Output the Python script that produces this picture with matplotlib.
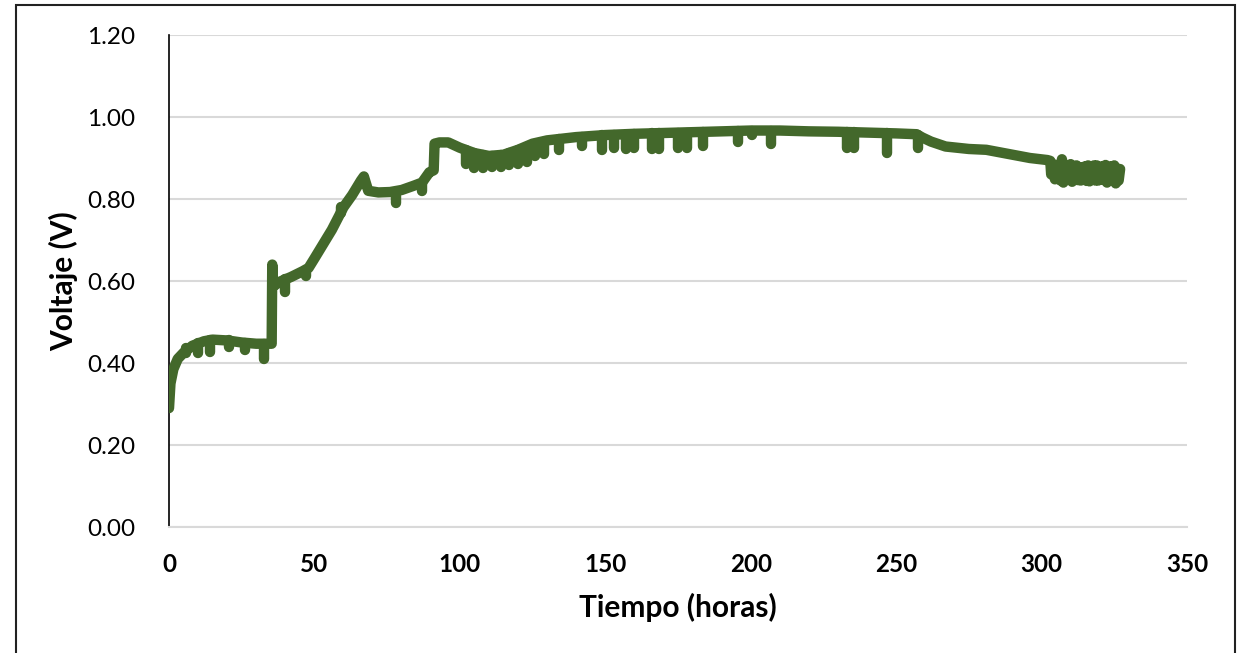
import matplotlib
matplotlib.use("Agg")
import matplotlib.pyplot as plt
from matplotlib.patches import Rectangle

plt.rcParams['font.family'] = ['Lato', 'DejaVu Sans']

# ---- data ----
base_t = [0, 0.5, 1.5, 3, 5, 8, 12, 15, 20, 25, 30, 35.3, 35.5, 35.7, 36.5, 38, 42, 46, 48,
          50, 53, 56, 60, 63, 66, 67, 68.5, 72, 76, 80, 84, 87, 89.5, 91, 91.3, 93, 96, 100,
          105, 110, 115, 120, 125, 130, 140, 150, 160, 170, 180, 190, 200, 210, 220, 230,
          240, 250, 257, 259, 262, 267, 275, 281, 290, 296, 302]
base_v = [0.29, 0.35, 0.385, 0.41, 0.425, 0.442, 0.453, 0.457, 0.455, 0.45, 0.447, 0.447,
          0.64, 0.595, 0.59, 0.598, 0.61, 0.624, 0.632, 0.655, 0.69, 0.725, 0.78, 0.81,
          0.845, 0.855, 0.82, 0.816, 0.817, 0.822, 0.832, 0.84, 0.865, 0.87, 0.935, 0.938,
          0.938, 0.925, 0.912, 0.905, 0.908, 0.92, 0.935, 0.943, 0.951, 0.956, 0.959, 0.961,
          0.963, 0.965, 0.967, 0.967, 0.965, 0.964, 0.962, 0.96, 0.958, 0.95, 0.94, 0.928,
          0.922, 0.92, 0.908, 0.9, 0.895]

noisy_t = [303, 303.3, 304, 304.6, 305, 305.5, 306, 306.5, 307, 307.5, 308, 308.5, 309,
           309.5, 310, 310.5, 311, 311.5, 312, 312.5, 313, 313.5, 314, 314.5, 315, 315.5,
           316, 316.5, 317, 317.5, 318, 318.5, 319, 319.5, 320, 320.5, 321, 321.5, 322,
           322.5, 323, 323.5, 324, 324.5, 325, 325.5, 326, 326.5, 327]
noisy_v = [0.893, 0.86, 0.885, 0.848, 0.878, 0.852, 0.884, 0.845, 0.897, 0.84, 0.88, 0.848,
           0.875, 0.85, 0.885, 0.842, 0.878, 0.848, 0.882, 0.846, 0.878, 0.845, 0.876, 0.85,
           0.88, 0.844, 0.882, 0.843, 0.875, 0.848, 0.882, 0.845, 0.882, 0.845, 0.878, 0.85,
           0.88, 0.846, 0.883, 0.84, 0.875, 0.85, 0.88, 0.845, 0.882, 0.838, 0.875, 0.845,
           0.873]

dip_t = [6, 10, 14, 20.5, 26, 32.5, 40, 47, 59, 78, 87,
         102, 105, 108, 111, 114, 117, 120, 123, 126, 129, 134, 142, 149, 153, 157, 160,
         166, 168.5, 175, 178, 183.5, 195.5, 200.5, 207, 233, 235.5, 247, 257.5]
dip_top = [0.437, 0.45, 0.456, 0.455, 0.45, 0.447, 0.604, 0.628, 0.78, 0.817, 0.84,
           0.92, 0.912, 0.908, 0.905, 0.907, 0.912, 0.92, 0.926, 0.935, 0.94, 0.947, 0.952,
           0.955, 0.956, 0.957, 0.958, 0.96, 0.96, 0.961, 0.962, 0.963, 0.965, 0.966, 0.967,
           0.964, 0.963, 0.96, 0.957]
dip_bottom = [0.425, 0.425, 0.428, 0.44, 0.432, 0.41, 0.572, 0.612, 0.765, 0.79, 0.82,
              0.885, 0.875, 0.875, 0.878, 0.878, 0.882, 0.885, 0.89, 0.905, 0.91, 0.92, 0.93,
              0.92, 0.925, 0.922, 0.925, 0.922, 0.922, 0.925, 0.925, 0.93, 0.94, 0.955, 0.935,
              0.925, 0.925, 0.913, 0.925]

x_ticks = [0, 50, 100, 150, 200, 250, 300, 350]
y_ticks = [0.0, 0.2, 0.4, 0.6, 0.8, 1.0, 1.2]

line_color = '#43682B'
grid_color = '#D9D9D9'

fig = plt.figure(figsize=(12.4, 6.53), dpi=100)
ax = fig.add_axes([169 / 1240, 1 - 527 / 653, (1187 - 169) / 1240, (527 - 35) / 653])

lw = 7.5
ax.plot(base_t + noisy_t, base_v + noisy_v, color=line_color, lw=lw,
        solid_capstyle='round', solid_joinstyle='round', zorder=3)
vl = ax.vlines(dip_t, dip_bottom, dip_top, color=line_color, lw=lw, zorder=3)
vl.set_capstyle('round')

ax.set_xlim(0, 350)
ax.set_ylim(0, 1.2)
ax.set_xticks(x_ticks)
ax.set_yticks(y_ticks)
ax.set_xticklabels([str(v) for v in x_ticks], fontweight='bold')
ax.set_yticklabels([f'{v:.2f}' for v in y_ticks])
ax.tick_params(axis='both', length=0, labelsize=17.5, colors='black')
ax.tick_params(axis='y', pad=24)
ax.tick_params(axis='x', pad=19)

ax.grid(axis='y', color=grid_color, lw=1.5, zorder=0)
ax.set_axisbelow(True)
for s in ['top', 'right']:
    ax.spines[s].set_visible(False)
ax.spines['left'].set_color('black')
ax.spines['left'].set_linewidth(1.2)
ax.spines['bottom'].set_color(grid_color)
ax.spines['bottom'].set_linewidth(1.5)

ax.set_xlabel('Tiempo (horas)', fontsize=21.5, fontweight='bold', labelpad=12)
ax.set_ylabel('Voltaje (V)', fontsize=21.5, fontweight='bold', labelpad=7)

fig.patches.append(Rectangle((16 / 1240, -0.1), (1235 - 16) / 1240, 1.1 - 5 / 653,
                             transform=fig.transFigure, fill=False, edgecolor='#222222',
                             lw=1.5))

fig.savefig('out.png', dpi=100)
